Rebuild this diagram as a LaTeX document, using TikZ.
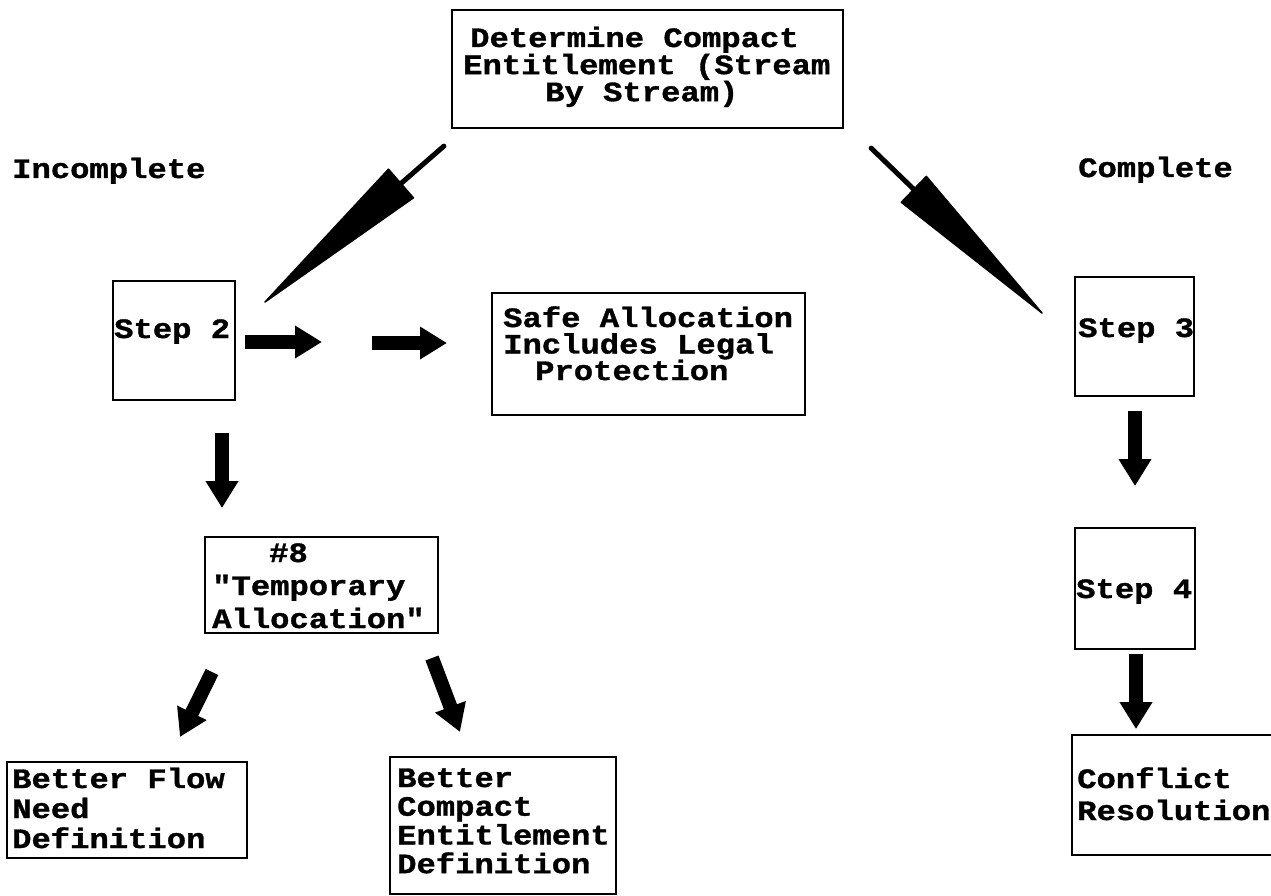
\documentclass[tikz,border=0pt]{standalone}
\usepackage{fontspec}
\newfontfamily\twfont{Liberation Mono}[FakeStretch=1.15, FakeBold=1.2]
\newcommand\tsp{\hspace{19.32pt}}
\usetikzlibrary{arrows.meta,calc}
\begin{document}
\begin{tikzpicture}[x=1pt,y=-1pt,
  box/.style={draw=black, line width=2.2pt, inner sep=0pt, rectangle},
  txt/.style={inner sep=0pt, anchor=base west, align=left, text width=420pt,
    font=\twfont\bfseries\fontsize{28}{#1}\selectfont},
  txt/.default=28,
  blk/.style={line width=14pt, -{Triangle[length=27pt,width=31pt]}},
  tailline/.style={line width=5pt, line cap=round},
  blade/.style={fill=black, draw=black, line width=1.5pt, line join=round}
]
\fill[white] (0,0) rectangle (1271,896);
\useasboundingbox (0,0) rectangle (1271,896);

% boxes
\node[box, minimum width=391pt, minimum height=118pt] (top) at (647.5,69) {};
\node[box, minimum width=122pt, minimum height=119pt] (step2) at (174,340.5) {};
\node[box, minimum width=313pt, minimum height=122pt] (safe) at (648.5,354) {};
\node[box, minimum width=119pt, minimum height=119pt] (step3) at (1134.5,336.5) {};
\node[box, minimum width=120pt, minimum height=121pt] (step4) at (1135,588.5) {};
\node[box, minimum width=233pt, minimum height=96pt] (temp) at (321.5,585) {};
\node[box, minimum width=240pt, minimum height=96pt] (bflow) at (127,810) {};
\node[box, minimum width=226pt, minimum height=137pt] (bcomp) at (503,825.5) {};
\node[box, minimum width=228pt, minimum height=120pt] (confl) at (1186,795) {};

% texts
\node[txt=24] (ttop) at (463,47) {\hspace*{7pt}Determine\tsp Compact\\Entitlement\tsp (Stream\\\hspace*{82pt}By\tsp Stream)};
\node[txt] (tinc) at (12,178) {Incomplete};
\node[txt] (tcom) at (1078,177) {Complete};
\node[txt] (tstep2) at (114,338) {Step\tsp 2};
\node[txt=26.5] (tsafe) at (503,327) {Safe\tsp Allocation\\Includes\tsp Legal\\\hspace*{32pt}Protection};
\node[txt] (tstep3) at (1078,337) {Step\tsp 3};
\node[txt] (tstep4) at (1076,598) {Step\tsp 4};
\node[txt=33] (ttemp) at (212,562) {\hspace*{57pt}\#8\\"Temporary\\Allocation"};
\node[txt=30] (tbflow) at (12,788) {Better\tsp Flow\\Need\\Definition};
\node[txt=28.7] (tbcomp) at (397,787) {Better\\Compact\\Entitlement\\Definition};
\node[txt=32] (tconfl) at (1077,788) {Conflict\\Resolution};

% darts from the top box
\coordinate (d1t) at ($(top.south west)+(-7,17)$);
\coordinate (d1p) at (265,302);
\coordinate (d1b) at ($(d1t)!0.24!(d1p)$);
\draw[tailline] (d1t) -- (d1b);
\filldraw[blade] ($(d1b)!19pt!90:(d1p)$) -- ($(d1b)!19pt!-90:(d1p)$) -- (d1p) -- cycle;

\coordinate (d2t) at ($(top.south east)+(27,19)$);
\coordinate (d2p) at (1042,313);
\coordinate (d2b) at ($(d2t)!0.25!(d2p)$);
\draw[tailline] (d2t) -- (d2b);
\filldraw[blade] ($(d2b)!18pt!90:(d2p)$) -- ($(d2b)!18pt!-90:(d2p)$) -- (d2p) -- cycle;

% block arrows
\coordinate (a1s) at (245,342);
\coordinate (a1e) at (322,342);
\coordinate (a2s) at (372,343);
\coordinate (a2e) at (447,343);
\draw[blk] (a1s) -- (a1e);
\draw[blk] (a2s) -- (a2e);

\coordinate (a3s) at ($(step2.south)+(48,32)$);
\coordinate (a3e) at ($(step2.south)+(48,107)$);
\draw[blk] (a3s) -- (a3e);

\coordinate (a4s) at (212,672);
\coordinate (a4e) at (180,737);
\coordinate (a5s) at (432,658);
\coordinate (a5e) at (460,732);
\draw[blk] (a4s) -- (a4e);
\draw[blk] (a5s) -- (a5e);

\coordinate (a6s) at ($(step3.south)+(0.5,14)$);
\coordinate (a6e) at ($(step3.south)+(0.5,89)$);
\draw[blk] (a6s) -- (a6e);
\coordinate (a7s) at ($(step4.south)+(1,4)$);
\coordinate (a7e) at ($(step4.south)+(1,79)$);
\draw[blk] (a7s) -- (a7e);
\end{tikzpicture}
\end{document}
